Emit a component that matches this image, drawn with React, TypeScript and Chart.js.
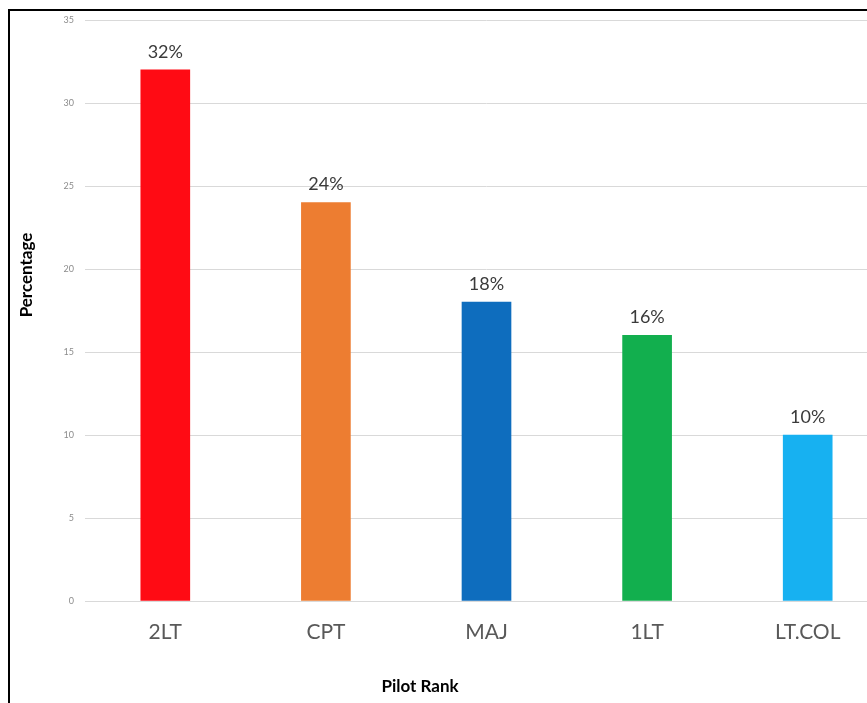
import React, { useEffect, useRef } from "react";
import { Chart, registerables } from "chart.js";

Chart.register(...registerables);

const ranks = ["2LT", "CPT", "MAJ", "1LT", "LT.COL"];
const percentages = [32, 24, 18, 16, 10];
const barColors = ["#FF0B14", "#ED7D31", "#0E6DBE", "#12AF4E", "#17B1F1"];
const yTicks = { min: 0, max: 35, step: 5 };
const xTitle = "Pilot Rank";
const yTitle = "Percentage";

const FONT = "Lato, 'Open Sans', sans-serif";
const CANVAS_W = 890;
const CANVAS_H = 703;

const valueLabels = {
  id: "valueLabels",
  afterDatasetsDraw(chart: any) {
    const { ctx } = chart;
    const meta = chart.getDatasetMeta(0);
    const data = chart.data.datasets[0].data as number[];
    ctx.save();
    ctx.font = `18px ${FONT}`;
    ctx.fillStyle = "#3a3a3a";
    ctx.textAlign = "center";
    ctx.textBaseline = "bottom";
    meta.data.forEach((bar: any, i: number) => {
      ctx.fillText(`${data[i]}%`, bar.x, bar.y - 9);
    });
    ctx.restore();
  },
};

const axisTitles = {
  id: "axisTitles",
  afterDraw(chart: any) {
    const { ctx } = chart;
    ctx.save();
    ctx.font = `bold 17px ${FONT}`;
    ctx.fillStyle = "#000";
    ctx.textAlign = "center";
    ctx.textBaseline = "middle";
    ctx.fillText(xTitle, 420, 687);
    ctx.translate(27, 275);
    ctx.rotate(-Math.PI / 2);
    ctx.fillText(yTitle, 0, 0);
    ctx.restore();
  },
};

export default function App() {
  const canvasRef = useRef<HTMLCanvasElement | null>(null);

  useEffect(() => {
    if (!canvasRef.current) return;
    const chart = new Chart(canvasRef.current, {
      type: "bar",
      data: {
        labels: ranks,
        datasets: [
          {
            data: percentages,
            backgroundColor: barColors,
            borderWidth: 0,
            barThickness: 49,
          },
        ],
      },
      options: {
        responsive: false,
        animation: false,
        devicePixelRatio: 1,
        layout: { padding: { top: 20, right: 2, bottom: 0, left: 0 } },
        plugins: {
          legend: { display: false },
          tooltip: { enabled: false },
          title: { display: false },
        },
        scales: {
          x: {
            offset: true,
            grid: { display: false, drawTicks: false },
            border: { display: true, color: "#d9d9d9", width: 1 },
            ticks: {
              padding: 19,
              color: "#595959",
              font: { family: FONT, size: 21 },
            },
            afterFit(scale: any) {
              scale.height = 102;
            },
          },
          y: {
            min: yTicks.min,
            max: yTicks.max,
            grid: { color: "#d9d9d9", lineWidth: 1, drawTicks: false },
            border: { display: false },
            ticks: {
              stepSize: yTicks.step,
              padding: 11,
              color: "#8c8c8c",
              font: { family: FONT, size: 9 },
            },
            afterFit(scale: any) {
              scale.width = 85;
            },
          },
        },
      },
      plugins: [valueLabels, axisTitles],
    });
    return () => chart.destroy();
  }, []);

  return (
    <div
      style={{
        position: "fixed",
        inset: 0,
        overflow: "hidden",
        background: "#fff",
      }}
    >
      <canvas
        ref={canvasRef}
        width={CANVAS_W}
        height={CANVAS_H}
        style={{ position: "absolute", left: 0, top: 0, width: CANVAS_W, height: CANVAS_H }}
      />
      <div
        style={{
          position: "absolute",
          left: 8,
          top: 9,
          right: 0,
          bottom: 0,
          borderLeft: "2px solid #000",
          borderTop: "2px solid #000",
          pointerEvents: "none",
        }}
      />
    </div>
  );
}
